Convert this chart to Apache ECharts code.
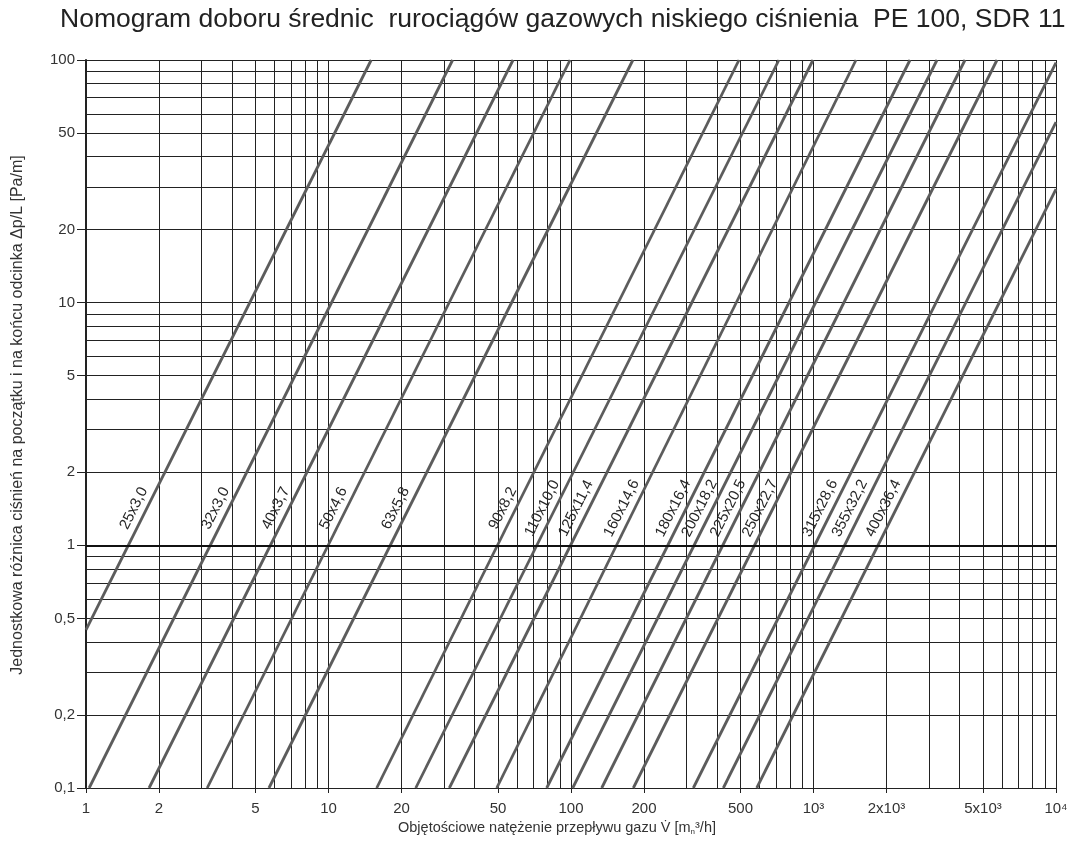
<!DOCTYPE html>
<html>
<head>
<meta charset="utf-8">
<script src="https://cdn.jsdelivr.net/npm/echarts@6/dist/echarts.min.js"></script>
<style>
html,body{margin:0;padding:0;background:#fff;}
#chart{width:1075px;height:855px;}
</style>
</head>
<body>
<div id="chart"></div>
<script>
// ---- data ----
const pipes = ['25x3,0','32x3,0','40x3,7','50x4,6','63x5,8','90x8,2','110x10,0','125x11,4','160x14,6','180x16,4','200x18,2','225x20,5','250x22,7','315x28,6','355x32,2','400x36,4'];
const startFlow = [1, 1.03, 1.82, 3.16, 5.68, 15.8, 22.9, 31.5, 49.4, 79.4, 101.6, 133.8, 180.7, 319.5, 424.6, 583.3];
const startDrop = [0.448, 0.1, 0.1, 0.1, 0.1, 0.1, 0.1, 0.1, 0.1, 0.1, 0.1, 0.1, 0.1, 0.1, 0.1, 0.1];
const endFlow = [15.0, 32.5, 57.7, 99.1, 180, 493, 720, 995, 1497, 2500, 3230, 4214, 5711, 10000, 10000, 10000];
const endDrop = [100, 100, 100, 100, 100, 100, 100, 100, 100, 100, 100, 100, 100, 97.5, 55.5, 29.4];

const xTickValues = [1, 2, 5, 10, 20, 50, 100, 200, 500, 1000, 2000, 5000, 10000];
const xTickLabels = ['1', '2', '5', '10', '20', '50', '100', '200', '500', '10³', '2x10³', '5x10³', '10⁴'];
const yTickValues = [0.1, 0.2, 0.5, 1, 2, 5, 10, 20, 50, 100];
const yTickLabels = ['0,1', '0,2', '0,5', '1', '2', '5', '10', '20', '50', '100'];

// ---- grid helpers ----
function logGrid(lo, hi) {
  const out = [];
  for (let e = lo; e < hi; e++) {
    for (let m = 1; m < 10; m++) out.push(+(m * Math.pow(10, e)).toPrecision(6));
  }
  out.push(Math.pow(10, hi));
  return out;
}
const gridX = logGrid(0, 4);
const gridY = logGrid(-1, 2);

const LABEL_DROP = 1.42;      // pressure level where labels sit
const LABEL_SHIFT = Math.pow(10, -13 / 242.5); // move label left of its line

function xAtDrop(i, y) {
  const lx1 = Math.log10(startFlow[i]), lx2 = Math.log10(endFlow[i]);
  const ly1 = Math.log10(startDrop[i]), ly2 = Math.log10(endDrop[i]);
  const t = (Math.log10(y) - ly1) / (ly2 - ly1);
  return Math.pow(10, lx1 + t * (lx2 - lx1));
}

const FONT = "'Liberation Sans', Arial, sans-serif";
const GRID_COLOR = '#222';
const LINE_COLOR = '#5c5c5c';

const series = pipes.map(function (name, i) {
  const s = {
    name: name,
    type: 'line',
    xAxisIndex: 0,
    yAxisIndex: 0,
    symbol: 'none',
    silent: true,
    animation: false,
    lineStyle: { color: LINE_COLOR, width: 2.8 },
    data: [[startFlow[i], startDrop[i]], [endFlow[i], endDrop[i]]],
    markPoint: {
      symbol: 'circle',
      symbolSize: 0,
      silent: true,
      animation: false,
      label: {
        show: true,
        formatter: name,
        rotate: 63.4,
        color: '#262626',
        fontSize: 15,
        fontFamily: FONT,
        align: 'center',
        verticalAlign: 'middle'
      },
      data: [{ coord: [xAtDrop(i, LABEL_DROP) * LABEL_SHIFT, LABEL_DROP] }]
    }
  };
  if (i === 0) {
    s.markLine = {
      silent: true,
      animation: false,
      symbol: 'none',
      label: { show: false },
      lineStyle: { color: '#111', width: 2, type: 'solid' },
      data: [{ yAxis: 1 }]
    };
  }
  return s;
});

const chart = echarts.init(document.getElementById('chart'), null, { renderer: 'canvas' });
chart.setOption({
  backgroundColor: '#fff',
  animation: false,
  title: {
    text: 'Nomogram doboru średnic  rurociągów gazowych niskiego ciśnienia  PE 100, SDR 11',
    left: 55,
    top: 1,
    textStyle: { fontFamily: FONT, fontSize: 26.5, fontWeight: 'normal', color: '#222' }
  },
  grid: { left: 86, right: 19, top: 60, bottom: 67 },
  xAxis: [
    {
      type: 'log', logBase: 10, min: 1, max: 10000,
      axisLine: { show: true, onZero: false, lineStyle: { color: GRID_COLOR, width: 1 } },
      axisTick: { show: false, customValues: gridX },
      axisLabel: { show: false },
      splitLine: { show: true, lineStyle: { color: GRID_COLOR, width: 1 } }
    },
    {
      type: 'log', logBase: 10, min: 1, max: 10000, position: 'bottom',
      axisLine: { show: false },
      axisTick: { show: true, customValues: xTickValues, length: 5, lineStyle: { color: GRID_COLOR } },
      axisLabel: {
        show: true, customValues: xTickValues, margin: 13,
        color: '#333', fontSize: 15, fontFamily: FONT,
        formatter: function (v) {
          const k = xTickValues.findIndex(function (t) { return Math.abs(t - v) / t < 1e-6; });
          return k >= 0 ? xTickLabels[k] : '';
        }
      },
      splitLine: { show: false },
      name: 'Objętościowe natężenie przepływu gazu V̇ [m{s|n}³/h]',
      nameLocation: 'middle',
      nameGap: 27,
      nameTextStyle: {
        color: '#333', fontSize: 14.5, fontFamily: FONT,
        padding: [0, 28, 0, 0],
        rich: { s: { fontSize: 8, fontFamily: FONT, color: '#333', padding: [6, 0, 0, 0] } }
      }
    }
  ],
  yAxis: [
    {
      type: 'log', logBase: 10, min: 0.1, max: 100,
      axisLine: { show: true, onZero: false, lineStyle: { color: GRID_COLOR, width: 2 } },
      axisTick: { show: false, customValues: gridY },
      axisLabel: { show: false },
      splitLine: { show: true, lineStyle: { color: GRID_COLOR, width: 1 } }
    },
    {
      type: 'log', logBase: 10, min: 0.1, max: 100, position: 'left',
      axisLine: { show: false },
      axisTick: { show: true, customValues: yTickValues, length: 9, lineStyle: { color: GRID_COLOR } },
      axisLabel: {
        show: true, customValues: yTickValues, margin: 11,
        color: '#333', fontSize: 15, fontFamily: FONT,
        formatter: function (v) {
          const k = yTickValues.findIndex(function (t) { return Math.abs(t - v) / t < 1e-6; });
          return k >= 0 ? yTickLabels[k] : '';
        }
      },
      splitLine: { show: false },
      name: 'Jednostkowa różnica ciśnień na początku i na końcu odcinka Δp/L [Pa/m]',
      nameLocation: 'middle',
      nameGap: 60,
      nameTextStyle: { color: '#333', fontSize: 16, fontFamily: FONT, padding: [0, 0, 0, 18] }
    }
  ],
  series: series
});
</script>
</body>
</html>
